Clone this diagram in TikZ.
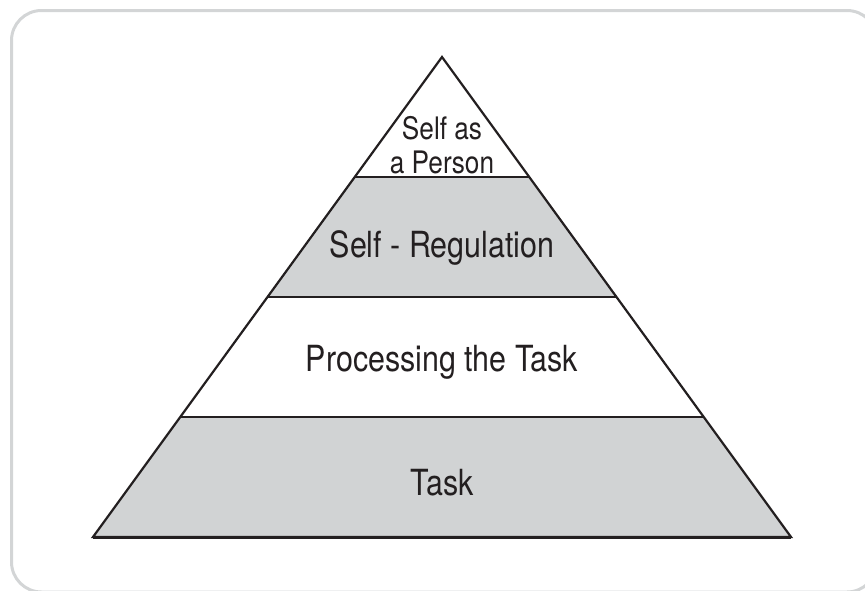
\documentclass[tikz,border=0pt]{standalone}
\usepackage{fontspec}
\setmainfont{TeX Gyre Heros}[FakeStretch=0.845]
\usepackage{tikz}
\usetikzlibrary{calc}
\definecolor{bandgray}{HTML}{D1D3D4}
\definecolor{framegray}{HTML}{D3D5D6}
\definecolor{inkdark}{HTML}{231F20}
\tikzset{
  band/.style={fill=bandgray, draw=none},
  edge/.style={draw=inkdark, line width=2.2pt},
  lbl/.style={anchor=base, inner sep=0pt, text=inkdark, font=\fontsize{36}{40}\selectfont},
}
\begin{document}
\begin{tikzpicture}[x=1pt, y=-1pt]
\useasboundingbox (0,0) rectangle (865,590);
% outer frame
\draw[framegray, line width=3pt, rounded corners=30pt] (11.5,10.5) rectangle (877,592);

% pyramid corners
\coordinate (apex) at (442,57);
\coordinate (baseL) at (93,537);
\coordinate (baseR) at (791,537);
\foreach \k/\f in {1/0.25, 2/0.5, 3/0.75} {
  \coordinate (L\k) at ($(apex)!\f!(baseL)$);
  \coordinate (R\k) at ($(apex)!\f!(baseR)$);
}

% grey bands
\fill[band] (L1) -- (R1) -- (R2) -- (L2) -- cycle;
\fill[band] (L3) -- (R3) -- (baseR) -- (baseL) -- cycle;

% band borders
\draw[edge] (L1) -- (R1);
\draw[edge] (L2) -- (R2);
\draw[edge] (L3) -- (R3);
\draw[edge, line join=miter] (apex) -- (baseR) -- (baseL) -- cycle;
\draw[draw=inkdark, line width=3pt] (baseL) -- (baseR);

% labels
\node[lbl, font=\fontsize{31}{34}\selectfont] (person1) at (442,139) {Self as};
\node[lbl, font=\fontsize{31}{34}\selectfont] (person2) at (442,173) {a Person};
\node[lbl] (regulation) at (442,257) {Self - Regulation};
\node[lbl] (processing) at (442,371) {Processing the Task};
\node[lbl] (task) at (442,495) {Task};
\end{tikzpicture}
\end{document}
